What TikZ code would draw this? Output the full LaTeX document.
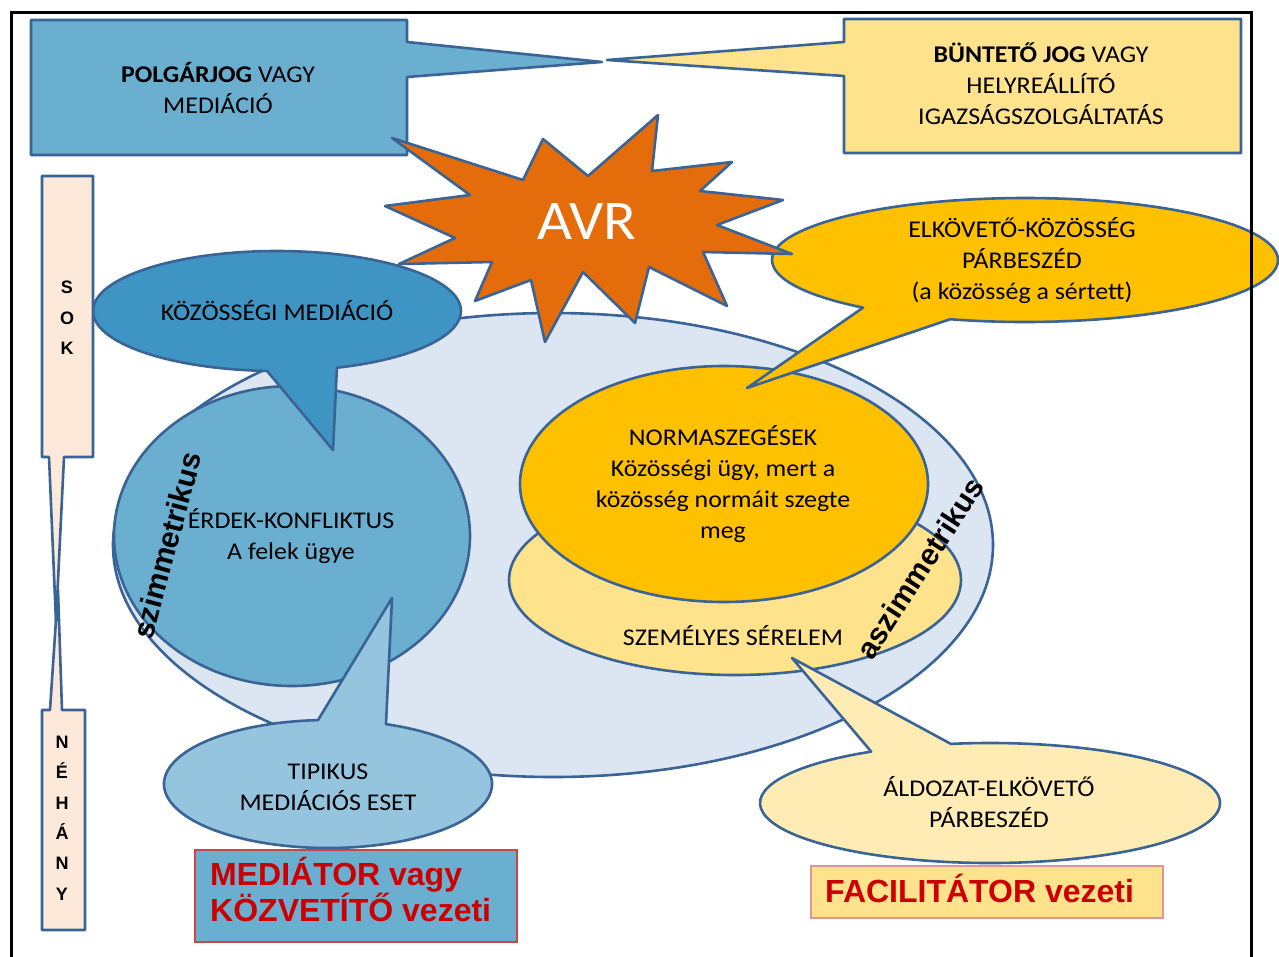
\documentclass[tikz,border=0pt]{standalone}
\usepackage{fontspec}
\setmainfont{Carlito}[FakeStretch=1.08]
\newfontfamily\headfont{Liberation Sans}
\definecolor{edge}{RGB}{58,100,150}
\definecolor{paleblue}{RGB}{220,230,242}
\definecolor{midblue}{RGB}{106,174,208}
\definecolor{deepblue}{RGB}{62,148,194}
\definecolor{lightblue}{RGB}{149,196,222}
\definecolor{gold}{RGB}{255,192,0}
\definecolor{sand}{RGB}{255,226,140}
\definecolor{cream}{RGB}{255,236,180}
\definecolor{peach}{RGB}{253,233,217}
\definecolor{flame}{RGB}{228,108,10}
\definecolor{signal}{RGB}{204,0,0}
\definecolor{redline}{RGB}{200,70,70}
\definecolor{roseline}{RGB}{217,150,148}

\begin{document}
\begin{tikzpicture}[x=1pt,y=1pt,yscale=-1,
  shape line/.style={draw=edge, line width=2.6pt, line join=round},
  label text/.style={font=\fontsize{24}{31}\selectfont, align=center, inner sep=0pt},
  slant label/.style={font=\headfont\bfseries\fontsize{30}{30}\selectfont, inner sep=0pt},
  lead text/.style={font=\headfont\bfseries\fontsize{32}{36}\selectfont, text=signal, align=left, inner sep=0pt},
  tick text/.style={font=\headfont\bfseries\fontsize{18}{30.4}\selectfont, align=center, inner sep=0pt}]
\useasboundingbox (0,0) rectangle (1279,956);
\fill[white] (0,0) rectangle (1279,956);

% large background oval
\filldraw[shape line, fill=paleblue] (553,545) ellipse [x radius=440, y radius=232];

% interest conflict oval
\filldraw[shape line, fill=midblue] (292,536) ellipse [x radius=178, y radius=150];

% community mediation bubble
\filldraw[shape line, fill=deepblue] (277,311) ++(93.1:184 and 60)
  arc[start angle=93.1, end angle=431, x radius=184, y radius=60] -- (333,450) -- cycle;

% typical mediation bubble
\filldraw[shape line, fill=lightblue] (328,784) ++(290.7:164 and 64)
  arc[start angle=290.7, end angle=626.5, x radius=164, y radius=64] -- (392,598) -- cycle;

% personal harm and norm violation ovals
\filldraw[shape line, fill=sand] (735,580) ellipse [x radius=226, y radius=95];
\filldraw[shape line, fill=gold] (724,484) ellipse [x radius=204, y radius=118];

% offender-community dialogue bubble
\filldraw[shape line, fill=gold] (1025,260) ++(129.8:253 and 62)
  arc[start angle=129.8, end angle=467.2, x radius=253, y radius=62] -- (747,388) -- cycle;

% victim-offender dialogue bubble
\filldraw[shape line, fill=cream] (990,803) ++(260.2:230 and 60)
  arc[start angle=260.2, end angle=598.9, x radius=230, y radius=60] -- (792,658) -- cycle;

% rectangular callouts at the top
\filldraw[shape line, fill=sand] (844,19) -- (1241,19) -- (1241,153) -- (844,153)
  -- (844,76) -- (607,60) -- (844,42) -- cycle;
\filldraw[shape line, fill=midblue] (31,20) -- (407,20) -- (407,42) -- (602,62)
  -- (407,77) -- (407,155) -- (31,155) -- cycle;

% explosion
\filldraw[shape line, fill=flame] (392,138) -- (523,180) -- (543,139) -- (588,176)
  -- (658,115) -- (652,171) -- (732,162) -- (700,191) -- (783,200) -- (717,225)
  -- (792,254) -- (703,252) -- (727,306) -- (649,267) -- (635,323) -- (583,272)
  -- (545,342) -- (531,280) -- (475,301) -- (492,262) -- (399,264) -- (455,238)
  -- (385,206) -- (470,195) -- cycle;

% many / few scale
\filldraw[shape line, fill=peach] (42,176) -- (93,176) -- (93,457) -- (64,457)
  -- (56,622) -- (49,457) -- (42,457) -- cycle;
\filldraw[shape line, fill=peach] (42,710) -- (50,710) -- (58,590) -- (62,710)
  -- (85,710) -- (85,930) -- (42,930) -- cycle;

% leader boxes
\filldraw[fill=midblue, draw=redline, line width=1.4pt] (195,850) rectangle (517,942);
\filldraw[fill=sand, draw=roseline, line width=1.4pt] (811,866) rectangle (1163,918);

% texts
\node[label text] (civil) at (218,88) {\textbf{POLGÁRJOG} VAGY\\MEDIÁCIÓ};
\node[label text] (penal) at (1041,84) {\textbf{BÜNTETŐ JOG} VAGY\\HELYREÁLLÍTÓ\\IGAZSÁGSZOLGÁLTATÁS};
\node[inner sep=0pt, text=white, font=\fontsize{56}{56}\selectfont] (avr) at (587,222) {AVR};
\node[label text] (offcom) at (1022,261) {ELKÖVETŐ-KÖZÖSSÉG\\PÁRBESZÉD\\(a közösség a sértett)};
\node[label text] (commed) at (277,311) {KÖZÖSSÉGI MEDIÁCIÓ};
\node[label text] (norm) at (723,484) {NORMASZEGÉSEK\\Közösségi ügy, mert a\\közösség normáit szegte\\meg};
\node[label text] (interest) at (291,536) {ÉRDEK-KONFLIKTUS\\A felek ügye};
\node[label text] (harm) at (733,636) {SZEMÉLYES SÉRELEM};
\node[label text] (typical) at (328,787) {TIPIKUS\\MEDIÁCIÓS ESET};
\node[label text] (vo) at (989,802) {ÁLDOZAT-ELKÖVETŐ\\PÁRBESZÉD};
\node[lead text, anchor=west] (mediator) at (210,889) {MEDIÁTOR vagy\\KÖZVETÍTŐ vezeti};
\node[lead text, anchor=base west] (facil) at (825,902) {FACILITÁTOR vezeti};
\node[tick text] (many) at (67,318) {S\\O\\K};
\node[tick text] (few) at (62,818) {N\\É\\H\\Á\\N\\Y};
\node[slant label, rotate=75] (sym) at (167,545) {szimmetrikus};
\node[slant label, rotate=57] (asym) at (920,568) {aszimmetrikus};

% page frame
\draw[line width=3pt] (11,962) -- (11,12) -- (1251,12) -- (1251,962);
\end{tikzpicture}
\end{document}
